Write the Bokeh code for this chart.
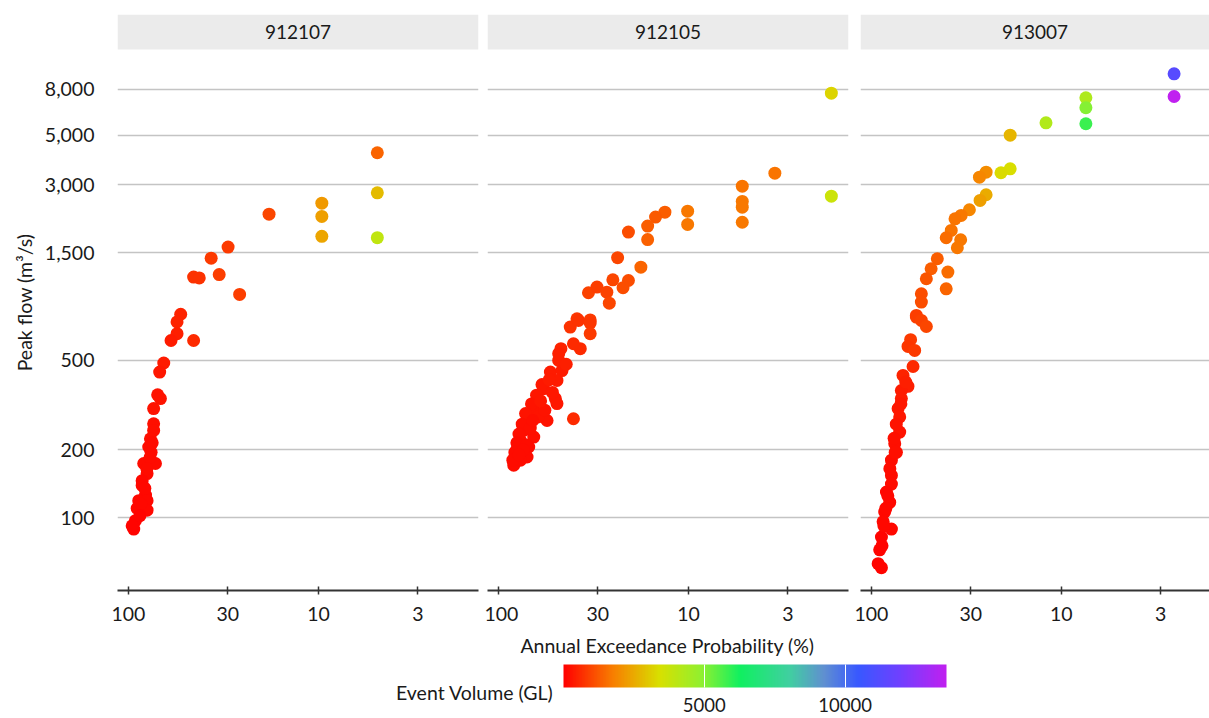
from bokeh.plotting import figure
from bokeh.models import (Range1d, FixedTicker, BoxAnnotation, Label, ColorBar,
                          LinearColorMapper, NumeralTickFormatter, Grid, ColumnDataSource)
from bokeh.layouts import row, column
from bokeh.embed import file_html
from bokeh.resources import INLINE

# ---------------- data ----------------
gauges = ["912107", "912105", "913007"]

aep_912107 = [4.9, 4.9, 4.9, 9.6, 9.6, 9.6, 18.2, 29.9, 36.7, 33.3, 45.4, 42.4, 26.0, 53.1, 55.5,
              55.5, 59.7, 45.4, 65.2, 68.5, 70.2, 67.9, 73.7, 73.7, 73.7, 76.6, 78.2, 76.0, 72.1,
              83.1, 79.8, 84.7, 84.7, 81.3, 88.3, 79.8, 79.8, 90.0, 91.9, 93.8, 95.6,
              86.0, 82.0, 77.0, 75.0, 87.0, 80.0]
flow_912107 = [4170, 2770, 1750, 2490, 2175, 1775, 2225, 1590, 1420, 1200, 1170, 1160, 980, 800, 740,
               656, 612, 612, 486, 443, 351, 338, 305, 261, 244, 224, 206, 195, 174,
               174, 157, 146, 139, 126, 119, 119, 108, 110, 97, 89, 92,
               115, 135, 185, 215, 102, 165]
vol_912107 = [1400, 2800, 3900, 2200, 2300, 2400, 1000, 850, 800, 900, 700, 700, 900, 500, 480,
              450, 420, 600, 380, 350, 300, 300, 280, 250, 240, 220, 200, 200, 180,
              180, 160, 150, 140, 130, 120, 120, 110, 110, 100, 90, 90,
              115, 135, 185, 210, 100, 165]

aep_912105 = [1.77, 1.77, 3.51, 5.21, 5.21, 5.21, 5.21, 10.1, 10.1, 13.3, 14.9, 16.4, 16.4, 20.7,
              23.6, 17.8, 25.0, 20.7, 22.1, 33.6, 30.3, 26.9, 26.1, 38.6, 32.9, 41.9, 37.9, 32.9,
              32.9, 37.1, 40.3, 46.9, 48.2, 48.2, 53.3, 46.3, 49.2, 57.8, 50.2, 49.2, 61.4, 65.2,
              55.5, 40.3, 70.7, 73.7, 65.2, 76.6, 69.3, 79.8, 70.7, 81.4, 83.1, 76.6,
              59.0, 63.0, 67.0, 72.0, 75.0, 78.0, 80.0, 82.0, 84.0, 68.0, 62.0, 57.0, 52.0, 54.0,
              44.0, 71.0, 74.0, 78.0, 66.0, 60.0]
flow_912105 = [7670, 2676, 3385, 2965, 2535, 2390, 2050, 2296, 2005, 2272, 2160, 1970, 1717, 1853,
               1426, 1295, 1138, 1130, 1050, 997, 1056, 1003, 896, 764, 755, 702, 751, 731,
               656, 563, 592, 563, 499, 535, 443, 450, 407, 374, 338, 321, 332, 299,
               270, 275, 270, 244, 228, 220, 206, 202, 186, 186, 171, 180,
               390, 350, 320, 290, 260, 235, 215, 195, 180, 250, 280, 300, 360, 410,
               480, 210, 200, 190, 270, 330]
vol_912105 = [3200, 3700, 1600, 1600, 1650, 1650, 1700, 1700, 1700, 1300, 1250, 1300, 1350, 1100,
              1000, 1400, 1000, 1100, 1100, 950, 900, 950, 1000, 750, 800, 700, 700, 750,
              800, 600, 600, 500, 450, 450, 400, 420, 400, 350, 350, 330, 330, 300,
              280, 600, 260, 240, 230, 220, 210, 200, 190, 180, 170, 175,
              360, 320, 300, 270, 250, 230, 210, 190, 180, 250, 280, 300, 360, 380,
              460, 210, 200, 190, 260, 320]

aep_913007 = [2.55, 2.55, 7.43, 7.43, 7.43, 12.05, 18.6, 18.6, 20.8, 24.9, 27.0, 24.9, 26.8, 30.5,
              33.7, 36.3, 38.0, 40.4, 33.9, 35.3, 45.0, 48.5, 39.6, 51.4, 40.4, 54.6, 54.6, 58.0,
              58.0, 54.6, 51.4, 62.2, 64.2, 59.2, 60.4, 68.2, 64.2, 69.6, 69.6, 72.4, 71.0, 71.0,
              75.4, 73.9, 78.5, 78.5, 78.5, 83.4, 80.1, 85.2, 78.5, 86.8, 88.6, 90.5, 92.2, 88.6,
              66.0, 70.0, 74.0, 76.0, 80.0, 82.0, 84.0, 86.0, 88.0, 75.0]
flow_913007 = [9350, 7413, 7318, 6610, 5610, 5665, 4990, 3540, 3400, 3420, 3250, 2715, 2561, 2329,
               2197, 2123, 1886, 1749, 1714, 1579, 1411, 1274, 1231, 1150, 1038, 987, 906, 791,
               777, 751, 706, 617, 576, 553, 469, 428, 383, 367, 338, 305, 280, 240,
               213, 195, 180, 154, 141, 130, 117, 106, 89, 96, 82, 72, 62.5, 60,
               400, 320, 260, 225, 165, 125, 110, 92, 75, 195]
vol_913007 = [11300, 13600, 4300, 5000, 5800, 4200, 2700, 3400, 3300, 2000, 1900, 2500, 2300, 1900,
              1700, 1600, 1600, 1500, 1700, 1700, 1300, 1300, 1500, 1200, 1400, 1100, 1100, 900,
              900, 950, 1000, 800, 750, 800, 600, 500, 450, 400, 380, 350, 320, 280,
              250, 230, 200, 180, 170, 150, 140, 120, 110, 110, 100, 90, 80, 80,
              450, 360, 300, 260, 190, 150, 130, 110, 90, 220]

y_ticks = [100, 200, 500, 1500, 3000, 5000, 8000]
x_ticks = [100, 30, 10, 3]
cbar_ticks = [5000, 10000]
vol_max = 13600

# ---------------- palette (rainbow) ----------------
stops = [(0.0, "#ff0000"), (0.13, "#f88000"), (0.25, "#d8e000"), (0.36, "#90f030"),
         (0.46, "#10f060"), (0.59, "#40d0a0"), (0.68, "#6090d0"), (0.77, "#3858ff"),
         (0.88, "#7040ff"), (1.0, "#c020f0")]


def _hex(c):
    return tuple(int(c[i:i + 2], 16) for i in (1, 3, 5))


palette = []
for i in range(256):
    t = i / 255
    for (t0, c0), (t1, c1) in zip(stops[:-1], stops[1:]):
        if t0 <= t <= t1:
            f = (t - t0) / (t1 - t0)
            a, b = _hex(c0), _hex(c1)
            palette.append("#%02x%02x%02x" % tuple(round(a[k] + (b[k] - a[k]) * f) for k in range(3)))
            break

mapper = LinearColorMapper(palette=palette, low=0, high=vol_max)

FONT = "Lato"
FS = "19.5px"
TXT = "#1a1a1a"
Y_RANGE = (47.5, 17140)
STRIP_BOTTOM = 11985
STRIP_TEXT_Y = 14390


def make_panel(name, aep, flow, vol, width, left, right, x_end, first):
    p = figure(width=width, height=630, x_axis_type="log", y_axis_type="log",
               x_range=Range1d(114.2, x_end), y_range=Range1d(*Y_RANGE),
               output_backend="svg", toolbar_location=None, title=None,
               y_axis_location="left" if first else None,
               min_border_left=left, min_border_right=right, min_border_top=14,
               min_border_bottom=40)
    p.outline_line_color = None
    p.background_fill_color = "white"
    p.border_fill_color = "white"
    p.grid.visible = False

    g = Grid(dimension=1, ticker=FixedTicker(ticks=y_ticks), grid_line_color="#c4c4c4",
             grid_line_width=1.5)
    p.add_layout(g, "center")

    strip = BoxAnnotation(bottom=STRIP_BOTTOM, fill_color="#ebebeb", fill_alpha=1.0,
                          line_color=None, level="underlay")
    p.add_layout(strip)
    xc = (114.2 * x_end) ** 0.5
    p.add_layout(Label(x=xc, y=STRIP_TEXT_Y, text=name, text_align="center",
                       text_baseline="middle", text_font=FONT, text_font_size="19px",
                       text_color=TXT))

    xa = p.xaxis[0]
    xa.ticker = FixedTicker(ticks=x_ticks)
    xa.formatter = NumeralTickFormatter(format="0")
    xa.axis_line_color = "#333333"
    xa.axis_line_width = 2
    xa.major_tick_line_color = "#333333"
    xa.major_tick_line_width = 1.5
    xa.major_tick_in = 4
    xa.major_tick_out = 4
    xa.minor_tick_line_color = None
    xa.major_label_text_font = FONT
    xa.major_label_text_font_size = FS
    xa.major_label_text_color = TXT
    xa.major_label_standoff = 12

    if first:
        ya = p.yaxis[0]
        ya.ticker = FixedTicker(ticks=y_ticks)
        ya.formatter = NumeralTickFormatter(format="0,0")
        ya.axis_line_color = None
        ya.major_tick_line_color = None
        ya.minor_tick_line_color = None
        ya.major_label_text_font = FONT
        ya.major_label_text_font_size = FS
        ya.major_label_text_color = TXT
        ya.major_label_standoff = 17
        ya.axis_label = "Peak flow (m³/s)"
        ya.axis_label_text_font = FONT
        ya.axis_label_text_font_size = FS
        ya.axis_label_text_font_style = "normal"
        ya.axis_label_text_color = TXT
        ya.axis_label_standoff = 6

    src = ColumnDataSource(dict(aep=aep, flow=flow, vol=vol))
    p.scatter("aep", "flow", source=src, size=13,
              fill_color={"field": "vol", "transform": mapper}, line_color=None)
    return p


f1 = make_panel(gauges[0], aep_912107, flow_912107, vol_912107, 484, 117, 6, 1.438, True)
f2 = make_panel(gauges[1], aep_912105, flow_912105, vol_912105, 370, 3, 6, 1.438, False)
f3 = make_panel(gauges[2], aep_913007, flow_913007, vol_913007, 355, 6, 0, 1.66, False)

# bottom strip: x-axis title and colour bar
fb = figure(width=1209, height=88, x_range=Range1d(0, 1209), y_range=Range1d(0, 88),
            output_backend="svg", toolbar_location=None, title=None,
            x_axis_location=None, y_axis_location=None,
            min_border_left=0, min_border_right=0, min_border_top=0, min_border_bottom=0)
fb.outline_line_color = None
fb.grid.visible = False
fb.add_layout(Label(x=667, y=73, text="Annual Exceedance Probability (%)", text_align="center",
                    text_baseline="middle", text_font=FONT, text_font_size=FS, text_color=TXT))
fb.add_layout(Label(x=553, y=26, text="Event Volume (GL)", text_align="right",
                    text_baseline="middle", text_font=FONT, text_font_size=FS, text_color=TXT))

cb = ColorBar(color_mapper=mapper, orientation="horizontal", width=383, height=23,
              ticker=FixedTicker(ticks=cbar_ticks), location=(563, 4), padding=0,
              background_fill_alpha=0, border_line_color=None, bar_line_color=None,
              major_tick_line_color="white", major_tick_in=23, major_tick_out=0,
              minor_tick_line_color=None, major_label_text_font=FONT,
              major_label_text_font_size="18.5px", major_label_text_color=TXT,
              label_standoff=10)
fb.add_layout(cb, "center")

layout = column(row(f1, f2, f3, spacing=0), fb, spacing=0)

open("out.html", "w").write(file_html(layout, INLINE))
